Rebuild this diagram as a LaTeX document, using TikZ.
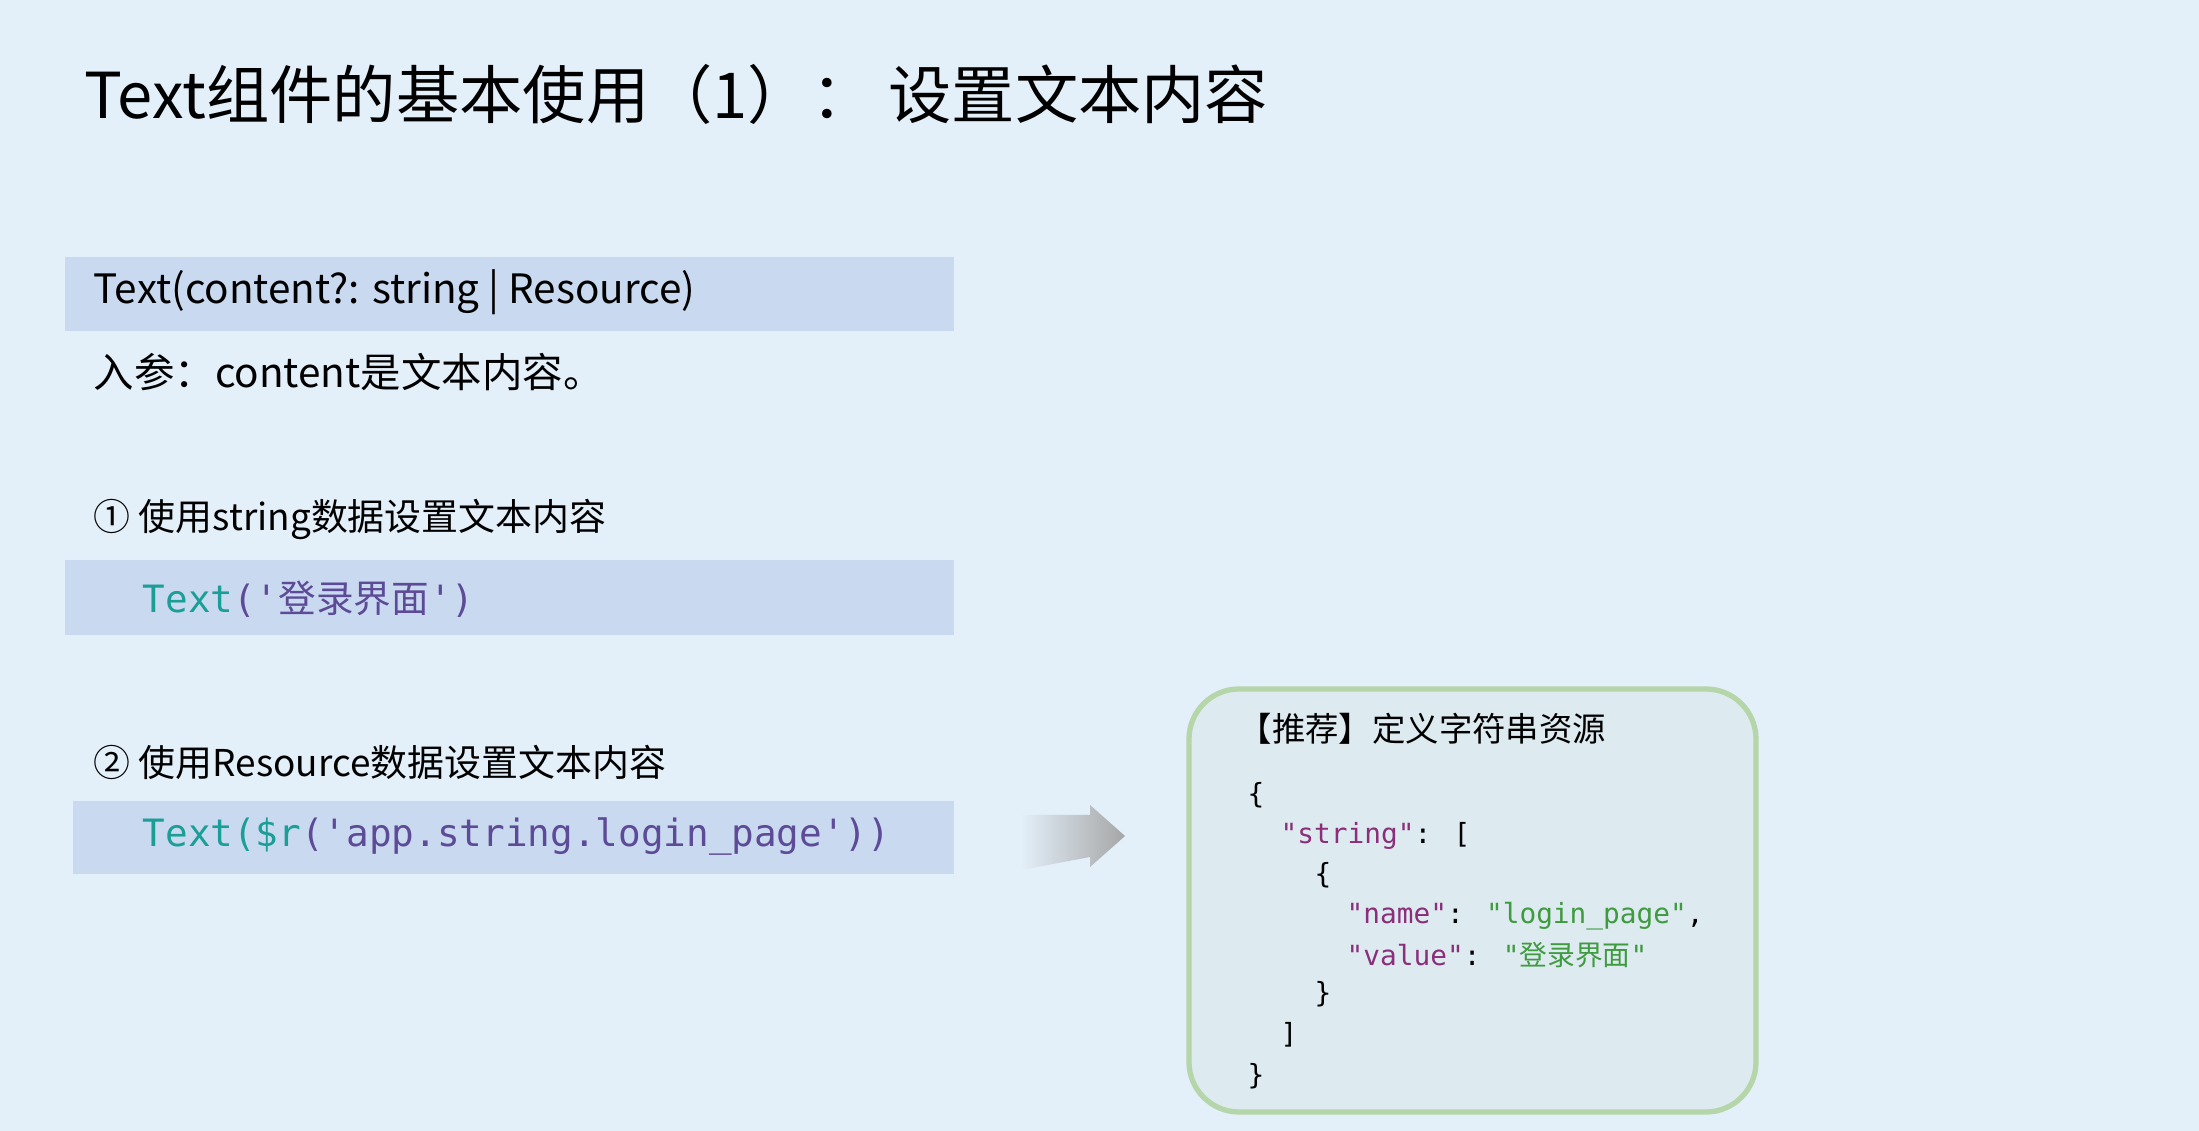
\documentclass[tikz,border=0pt]{standalone}
\usepackage{fontspec}
\setmainfont{Noto Sans CJK SC}
\newfontfamily\codefont{DejaVu Sans Mono}
\definecolor{bgblue}{HTML}{E3EFF9}
\definecolor{barblue}{HTML}{C9DAF0}
\definecolor{codeteal}{HTML}{1A9E96}
\definecolor{codepurple}{HTML}{5E4B98}
\definecolor{keypurple}{HTML}{8B2F7A}
\definecolor{valgreen}{HTML}{3F9B3F}
\definecolor{cardfill}{HTML}{DDEAF0}
\definecolor{cardline}{HTML}{B5D6A8}
\tikzset{
  txt/.style={anchor=west, inner sep=0pt, font=\fontsize{11.5}{13}\selectfont},
  waytxt/.style={txt, font=\fontsize{10.5}{12}\selectfont},
  codetxt/.style={anchor=west, inner sep=0pt, font=\codefont\fontsize{10.7}{13}\selectfont},
  jsontxt/.style={anchor=west, inner sep=0pt, font=\codefont\fontsize{7.9}{10}\selectfont},
  bar/.style={fill=barblue, draw=none},
}
\begin{document}
\begin{tikzpicture}[x=0.01cm, y=-0.01cm]
  % background
  \fill[bgblue] (0,0) rectangle (2199,1131);
  \useasboundingbox (0,0) rectangle (2199,1131);
  % title
  \node[txt, font=\fontsize{18}{22}\selectfont] (title) at (84,94) {Text组件的基本使用（1）： 设置文本内容};
  % signature
  \fill[bar] (65,257) rectangle (954,331);
  \node[txt] (sig) at (93,292) {Text(content?: string | Resource)};
  \node[txt] (param) at (93,372) {入参：content是文本内容。};
  % way 1
  \node[waytxt] (way1) at (93,519) {① 使用string数据设置文本内容};
  \fill[bar] (65,560) rectangle (954,635);
  \node[codetxt] (code1) at (142,599) {\textcolor{codeteal}{Text}\textcolor{codepurple}{('{\rmfamily 登录界面}')}};
  % way 2
  \node[waytxt] (way2) at (93,762) {② 使用Resource数据设置文本内容};
  \fill[bar] (73,801) rectangle (954,874);
  \node[codetxt] (code2) at (142,837) {\textcolor{codeteal}{Text(\$r}\textcolor{codepurple}{('app.string.login\_page'))}};
  % arrow
  \shade[left color=bgblue, right color=black!35, shading angle=90]
    (1021,815) -- (1090,815) -- (1090,805) -- (1125,836) -- (1090,867)
    -- (1090,857) -- (1021,870) -- cycle;
  % resource card
  \draw[cardline, fill=cardfill, line width=1.5pt, rounded corners=0.5cm] (1189,689) rectangle (1756,1112);
  \node[txt, font=\fontsize{9.5}{11}\selectfont] (cardtitle) at (1238,729) {【推荐】定义字符串资源};
  \node[jsontxt] (j1) at (1247,795) {\{};
  \node[jsontxt] (j2) at (1280,836) {\textcolor{keypurple}{"string"}: [};
  \node[jsontxt] (j3) at (1314,875) {\{};
  \node[jsontxt] (j4) at (1346,916) {\textcolor{keypurple}{"name"}: \textcolor{valgreen}{"login\_page"},};
  \node[jsontxt] (j5) at (1346,955) {\textcolor{keypurple}{"value"}: \textcolor{valgreen}{"{\rmfamily 登录界面}"}};
  \node[jsontxt] (j6) at (1314,994) {\}};
  \node[jsontxt] (j7) at (1280,1035) {]};
  \node[jsontxt] (j8) at (1247,1076) {\}};
\end{tikzpicture}
\end{document}
